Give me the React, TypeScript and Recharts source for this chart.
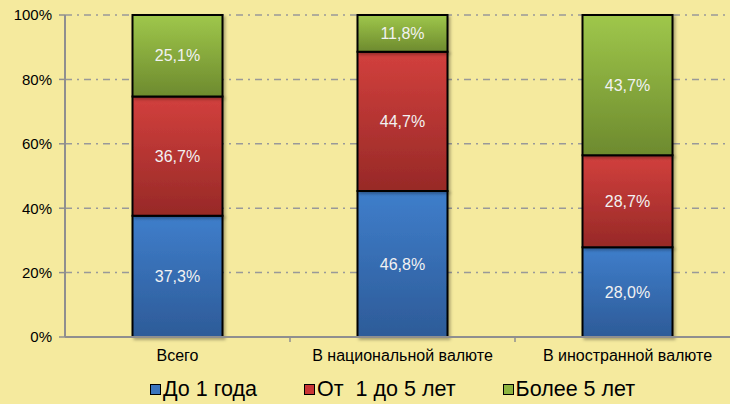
import React from 'react';
import {
  BarChart,
  Bar,
  XAxis,
  YAxis,
  CartesianGrid,
  Legend,
  LabelList
} from 'recharts';

const categories = ['Всего', 'В национальной валюте', 'В иностранной валюте'];
const upTo1Year = [37.3, 46.8, 28.0];
const from1To5Years = [36.7, 44.7, 28.7];
const over5Years = [25.1, 11.8, 43.7];
const yTicks = [0, 0.2, 0.4, 0.6, 0.8, 1];

const seriesNames = ['До 1 года', 'От  1 до 5 лет', 'Более 5 лет'];

const data = categories.map((name, i) => ({
  name,
  a: upTo1Year[i],
  b: from1To5Years[i],
  c: over5Years[i]
}));

const FONT = '"Liberation Sans", Arial, sans-serif';

const legendItems = [
  { label: seriesNames[0], color: '#3A74BE' },
  { label: seriesNames[1], color: '#C93535' },
  { label: seriesNames[2], color: '#8DB43F' }
];

const fmt = (v: any) => String(Number(v).toFixed(1)).replace('.', ',') + '%';

const CategoryTick = (props: any) => {
  const { x, y, payload } = props;
  const half = payload.offset || 0;
  return (
    <g>
      {props.index > 0 && (
        <line x1={x - half} x2={x - half} y1={y} y2={y + 5} stroke="#8f8f8f" strokeWidth={1.5} />
      )}
      <text x={x} y={y + 24} textAnchor="middle" fill="#000" fontSize={16} fontFamily={FONT}>
        {payload.value}
      </text>
    </g>
  );
};

const LegendContent = () => (
  <div
    style={{
      height: 37,
      boxSizing: 'border-box',
      paddingTop: 8,
      display: 'flex',
      alignItems: 'center',
      paddingLeft: 150,
      fontFamily: FONT,
      fontSize: 21.5,
      color: '#000'
    }}
  >
    {legendItems.map((it, i) => (
      <div key={i} style={{ display: 'flex', alignItems: 'center', marginRight: 47 }}>
        <span
          style={{
            display: 'inline-block',
            width: 9,
            height: 9,
            background: it.color,
            border: '1.5px solid #000',
            marginRight: 2
          }}
        />
        <span style={{ whiteSpace: 'pre' }}>{it.label}</span>
      </div>
    ))}
  </div>
);

export default function App() {
  return (
    <div
      style={{
        position: 'absolute',
        left: 0,
        top: 0,
        width: 730,
        height: 404,
        overflow: 'hidden',
        background: '#F5EA9E'
      }}
    >
      <BarChart
        width={740}
        height={404}
        data={data}
        stackOffset="expand"
        barCategoryGap="30%"
        margin={{ top: 15, right: 0, left: 0, bottom: 0 }}
      >
        <defs>
          <linearGradient id="gBlue" x1="0" y1="0" x2="0" y2="1">
            <stop offset="0%" stopColor="#3F7ECB" />
            <stop offset="100%" stopColor="#2D5B98" />
          </linearGradient>
          <linearGradient id="gRed" x1="0" y1="0" x2="0" y2="1">
            <stop offset="0%" stopColor="#D2403D" />
            <stop offset="100%" stopColor="#972927" />
          </linearGradient>
          <linearGradient id="gGreen" x1="0" y1="0" x2="0" y2="1">
            <stop offset="0%" stopColor="#9FC74B" />
            <stop offset="100%" stopColor="#6D8A2E" />
          </linearGradient>
          <filter id="shadow" x="-10%" y="-10%" width="130%" height="130%">
            <feDropShadow dx="2" dy="2" stdDeviation="1.5" floodColor="#000" floodOpacity="0.3" />
          </filter>
        </defs>
        <CartesianGrid
          vertical={false}
          stroke="#999"
          strokeWidth={1.5}
          strokeDasharray="7 5 2 5"
        />
        <XAxis
          dataKey="name"
          axisLine={{ stroke: '#8f8f8f', strokeWidth: 2 }}
          tickLine={false}
          tickSize={0}
          tickMargin={0}
          height={30}
          interval={0}
          tick={<CategoryTick />}
        />
        <YAxis
          width={65}
          domain={[0, 1]}
          ticks={yTicks}
          tickFormatter={(v: number) => Math.round(v * 100) + '%'}
          axisLine={{ stroke: '#8f8f8f', strokeWidth: 2 }}
          tickLine={{ stroke: '#8f8f8f', strokeWidth: 1.5 }}
          tickSize={6}
          tickMargin={7}
          tick={{ fill: '#000', fontSize: 15, fontFamily: FONT }}
        />
        <Legend verticalAlign="bottom" content={<LegendContent />} />
        <Bar dataKey="a" stackId="s" fill="url(#gBlue)" stroke="#000" strokeWidth={2} isAnimationActive={false} style={{ filter: 'url(#shadow)' }}>
          <LabelList dataKey="a" position="center" formatter={fmt} fill="#F2F2F2" fontSize={16} fontFamily={FONT} />
        </Bar>
        <Bar dataKey="b" stackId="s" fill="url(#gRed)" stroke="#000" strokeWidth={2} isAnimationActive={false} style={{ filter: 'url(#shadow)' }}>
          <LabelList dataKey="b" position="center" formatter={fmt} fill="#F2F2F2" fontSize={16} fontFamily={FONT} />
        </Bar>
        <Bar dataKey="c" stackId="s" fill="url(#gGreen)" stroke="#000" strokeWidth={2} isAnimationActive={false} style={{ filter: 'url(#shadow)' }}>
          <LabelList dataKey="c" position="center" formatter={fmt} fill="#F2F2F2" fontSize={16} fontFamily={FONT} />
        </Bar>
      </BarChart>
    </div>
  );
}
